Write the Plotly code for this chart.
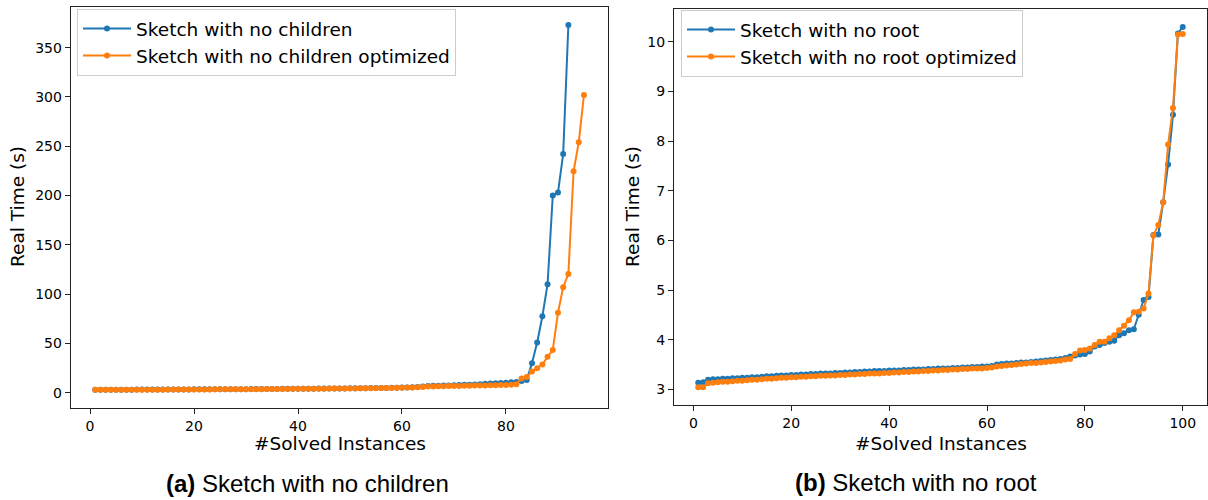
import plotly.graph_objects as go

# ---------------- data ----------------
left_blue_name = "Sketch with no children"
left_orange_name = "Sketch with no children optimized"
right_blue_name = "Sketch with no root"
right_orange_name = "Sketch with no root optimized"

left_blue = [
    3.0, 3.0, 3.0, 3.1, 3.1, 3.1, 3.1, 3.1, 3.2, 3.2,
    3.2, 3.2, 3.2, 3.2, 3.3, 3.3, 3.3, 3.3, 3.3, 3.4,
    3.4, 3.4, 3.4, 3.5, 3.5, 3.5, 3.5, 3.6, 3.6, 3.6,
    3.7, 3.7, 3.7, 3.8, 3.8, 3.8, 3.9, 3.9, 4.0, 4.0,
    4.0, 4.1, 4.1, 4.2, 4.2, 4.3, 4.3, 4.4, 4.4, 4.5,
    4.5, 4.6, 4.6, 4.7, 4.7, 4.8, 4.9, 5.0, 5.1, 5.2,
    5.4, 5.6, 5.9, 6.3, 6.8, 7.0, 7.1, 7.3, 7.4, 7.6,
    7.8, 8.0, 8.2, 8.4, 8.7, 9.0, 9.3, 9.6, 9.9, 10.2,
    10.5, 10.8, 12.0, 13.0, 30.0, 51.0, 77.5, 110.0, 200.0, 203.0,
    242.0, 373.0,
]
left_orange = [
    2.9, 2.9, 2.9, 3.0, 3.0, 3.0, 3.0, 3.0, 3.1, 3.1,
    3.1, 3.1, 3.1, 3.1, 3.2, 3.2, 3.2, 3.2, 3.2, 3.3,
    3.3, 3.3, 3.3, 3.4, 3.4, 3.4, 3.4, 3.5, 3.5, 3.5,
    3.6, 3.6, 3.6, 3.7, 3.7, 3.7, 3.8, 3.8, 3.9, 3.9,
    3.9, 4.0, 4.0, 4.1, 4.1, 4.2, 4.2, 4.3, 4.3, 4.4,
    4.4, 4.5, 4.5, 4.6, 4.6, 4.7, 4.8, 4.9, 5.0, 5.1,
    5.2, 5.4, 5.6, 5.9, 6.2, 6.4, 6.5, 6.6, 6.7, 6.8,
    6.9, 7.0, 7.1, 7.2, 7.3, 7.4, 7.5, 7.6, 7.7, 7.8,
    8.0, 8.5, 14.5, 16.0, 21.5, 24.7, 28.5, 36.5, 43.3, 81.0,
    107.0, 120.5, 224.5, 254.0, 302.0,
]
right_blue = [
    3.13, 3.14, 3.19, 3.20, 3.20, 3.21, 3.21, 3.22, 3.22, 3.23,
    3.23, 3.24, 3.24, 3.25, 3.26, 3.26, 3.27, 3.28, 3.28, 3.29,
    3.29, 3.30, 3.30, 3.31, 3.31, 3.32, 3.32, 3.32, 3.33, 3.33,
    3.34, 3.34, 3.35, 3.35, 3.36, 3.36, 3.37, 3.37, 3.37, 3.38,
    3.38, 3.38, 3.39, 3.39, 3.40, 3.40, 3.40, 3.41, 3.41, 3.42,
    3.42, 3.42, 3.43, 3.43, 3.44, 3.44, 3.45, 3.45, 3.46, 3.46,
    3.47, 3.50, 3.51, 3.52, 3.52, 3.53, 3.54, 3.54, 3.55, 3.56,
    3.57, 3.58, 3.59, 3.60, 3.61, 3.63, 3.66, 3.68, 3.70, 3.71,
    3.76, 3.86, 3.89, 3.93, 3.96, 3.98, 4.09, 4.13, 4.19, 4.21,
    4.50, 4.80, 4.86, 6.11, 6.12, 6.77, 7.53, 8.53, 10.17, 10.30,
]
right_orange = [
    3.04, 3.04, 3.12, 3.13, 3.14, 3.15, 3.15, 3.16, 3.17, 3.17,
    3.18, 3.19, 3.19, 3.20, 3.21, 3.21, 3.22, 3.23, 3.23, 3.24,
    3.24, 3.25, 3.25, 3.26, 3.26, 3.27, 3.27, 3.28, 3.28, 3.29,
    3.29, 3.30, 3.30, 3.31, 3.31, 3.32, 3.32, 3.32, 3.33, 3.33,
    3.34, 3.34, 3.35, 3.35, 3.36, 3.36, 3.37, 3.37, 3.38, 3.38,
    3.39, 3.39, 3.40, 3.40, 3.41, 3.41, 3.42, 3.42, 3.42, 3.43,
    3.44, 3.46, 3.47, 3.48, 3.49, 3.50, 3.51, 3.52, 3.53, 3.53,
    3.54, 3.55, 3.56, 3.57, 3.58, 3.60, 3.61, 3.71, 3.78, 3.79,
    3.82, 3.89, 3.96, 3.96, 4.03, 4.09, 4.19, 4.28, 4.39, 4.55,
    4.56, 4.63, 4.93, 6.10, 6.31, 6.77, 7.93, 8.67, 10.15, 10.16,
]

left_xticks = [0, 20, 40, 60, 80]
left_yticks = [0, 50, 100, 150, 200, 250, 300, 350]
right_xticks = [0, 20, 40, 60, 80, 100]
right_yticks = [3, 4, 5, 6, 7, 8, 9, 10]

x_title = "#Solved Instances"
y_title = "Real Time (s)"
caption_a = "<b>(a)</b> Sketch with no children"
caption_b = "<b>(b)</b> Sketch with no root"

# ---------------- styles ----------------
W, H = 1208, 500
BLUE = "#1f77b4"
ORANGE = "#ff7f0e"
FONT = "DejaVu Sans"

def px_x(p):
    return p / W

def px_y(p):
    return 1 - p / H

fig = go.Figure()

def add(xs, ys, name, color, xa, ya, legend):
    fig.add_trace(go.Scatter(
        x=xs, y=ys, name=name, mode="lines+markers",
        line=dict(color=color, width=2),
        marker=dict(color=color, size=6),
        xaxis=xa, yaxis=ya, legend=legend,
    ))

add(list(range(1, len(left_blue) + 1)), left_blue, left_blue_name, BLUE, "x", "y", "legend")
add(list(range(1, len(left_orange) + 1)), left_orange, left_orange_name, ORANGE, "x", "y", "legend")
add(list(range(1, len(right_blue) + 1)), right_blue, right_blue_name, BLUE, "x2", "y2", "legend2")
add(list(range(1, len(right_orange) + 1)), right_orange, right_orange_name, ORANGE, "x2", "y2", "legend2")

axis_common = dict(
    showline=True, mirror=True, linecolor="#222", linewidth=1.1,
    ticks="outside", ticklen=5, tickwidth=1, tickcolor="#222",
    showgrid=False, zeroline=False,
    tickfont=dict(family=FONT, size=14, color="#000"),
)

legend_common = dict(
    bgcolor="rgba(255,255,255,0.8)", bordercolor="#cccccc", borderwidth=1,
    font=dict(family=FONT, size=18.5, color="#000"),
    xanchor="left", yanchor="top", itemwidth=48,
)

fig.update_layout(
    width=W, height=H,
    margin=dict(l=0, r=0, t=0, b=0),
    paper_bgcolor="white", plot_bgcolor="white",
    showlegend=True,
    xaxis=dict(domain=[px_x(70.8), px_x(608.4)], range=[-3.7, 99.7],
               tickvals=left_xticks, anchor="y", **axis_common),
    yaxis=dict(domain=[px_y(408), px_y(6.7)], range=[-15.5, 391.5],
               tickvals=left_yticks, anchor="x", **axis_common),
    xaxis2=dict(domain=[px_x(674), px_x(1207)], range=[-3.95, 104.95],
                tickvals=right_xticks, anchor="y2", **axis_common),
    yaxis2=dict(domain=[px_y(405.3), px_y(9)], range=[2.677, 10.663],
                tickvals=right_yticks, anchor="x2", **axis_common),
    legend=dict(x=px_x(77), y=px_y(9), **legend_common),
    legend2=dict(x=px_x(681), y=px_y(10), **legend_common),
)

def note(text, x, y, size, family=FONT, angle=0):
    fig.add_annotation(
        text=text, x=px_x(x), y=px_y(y), xref="paper", yref="paper",
        xanchor="center", yanchor="middle", showarrow=False, textangle=angle,
        font=dict(family=family, size=size, color="#000"),
    )

note(x_title, 339.5, 443, 18.5)
note(x_title, 940.5, 443, 18.5)
note(y_title, 18, 207, 18.5, angle=-90)
note(y_title, 633, 207, 18.5, angle=-90)
note(caption_a, 307, 483, 24, family="Liberation Sans")
note(caption_b, 916, 482, 24, family="Liberation Sans")

fig.write_html("out.html")
